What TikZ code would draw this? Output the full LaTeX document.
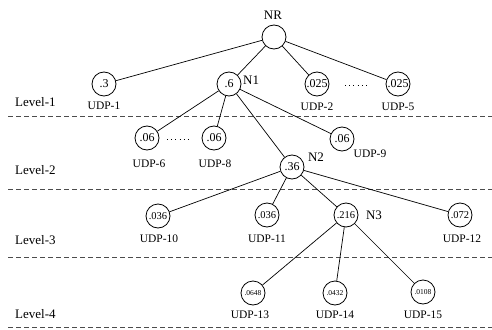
\documentclass[tikz,border=0pt]{standalone}
\usepackage{fontspec}
\setmainfont{Liberation Serif}
\begin{document}
\begin{tikzpicture}[x=1pt,y=-1pt,
  nd/.style={circle,draw,line width=0.8pt,minimum size=24pt,inner sep=0pt,font=\fontsize{12}{12}\selectfont},
  ndm/.style={nd,font=\fontsize{10.5}{10.5}\selectfont},
  nds/.style={nd,font=\fontsize{7.5}{7.5}\selectfont},
  lab/.style={font=\fontsize{11.5}{12}\selectfont,inner sep=0pt},
  nlab/.style={font=\fontsize{13}{13}\selectfont,inner sep=0pt},
  lvl/.style={font=\fontsize{13}{13}\selectfont,inner sep=0pt,anchor=west},
  sep/.style={dash pattern=on 5pt off 3pt,line width=0.8pt,draw=black!70},
  dots/.style={dash pattern=on 1pt off 3.2pt,line width=1pt},
  edge/.style={line width=0.7pt}]
\useasboundingbox (0,0) rectangle (492,329);
% separators
\coordinate (s1a) at (8,116); \coordinate (s1b) at (492,116);
\coordinate (s2a) at (8,189); \coordinate (s2b) at (492,189);
\coordinate (s3a) at (8,257); \coordinate (s3b) at (492,257);
\coordinate (s4a) at (8,327.5); \coordinate (s4b) at (492,327.5);
\draw[sep] (s1a) -- (s1b);
\draw[sep] (s2a) -- (s2b);
\draw[sep] (s3a) -- (s3b);
\draw[sep] (s4a) -- (s4b);
% level labels
\node[lvl] (l1) at (15,102) {Level-1};
\node[lvl] (l2) at (15,170) {Level-2};
\node[lvl] (l3) at (15,240) {Level-3};
\node[lvl] (l4) at (15,314) {Level-4};
% nodes
\node[nd] (nr) at (274,37) {};
\node[nlab] (nrl) at (273,15) {NR};
\node[nd] (u1) at (104,84) {.3};
\node[lab] (u1l) at (104,106) {UDP-1};
\node[nd] (n1) at (229,84) {.6};
\node[nlab,anchor=west] (n1l) at (243,80) {N1};
\node[nd] (u2) at (317,84) {.025};
\node[lab] (u2l) at (317,107) {UDP-2};
\coordinate (d1a) at (345,85); \coordinate (d1b) at (370,85);
\draw[dots] (d1a) -- (d1b);
\node[nd] (u5) at (398,84) {.025};
\node[lab] (u5l) at (398,107) {UDP-5};
\node[nd] (u6) at (147,138) {.06};
\node[lab] (u6l) at (149,164) {UDP-6};
\coordinate (d2a) at (167,139); \coordinate (d2b) at (192,139);
\draw[dots] (d2a) -- (d2b);
\node[nd] (u8) at (214,138) {.06};
\node[lab] (u8l) at (215,164) {UDP-8};
\node[nd] (u9) at (342,139) {.06};
\node[lab] (u9l) at (370,154) {UDP-9};
\node[nd] (n2) at (292,167) {.36};
\node[nlab] (n2l) at (316,157) {N2};
\node[ndm] (u10) at (158,216) {.036};
\node[lab] (u10l) at (159,239) {UDP-10};
\node[ndm] (u11) at (267,215) {.036};
\node[lab] (u11l) at (267,239) {UDP-11};
\node[ndm] (n3) at (346,215) {.216};
\node[nlab] (n3l) at (374,215) {N3};
\node[ndm] (u12) at (460,215) {.072};
\node[lab] (u12l) at (462,239) {UDP-12};
\node[nds] (u13) at (253,293) {.0648};
\node[lab] (u13l) at (250,315) {UDP-13};
\node[nds] (u14) at (335,293) {.0432};
\node[lab] (u14l) at (335,315) {UDP-14};
\node[nds] (u15) at (423,292) {.0108};
\node[lab] (u15l) at (423,315) {UDP-15};
% edges
\draw[edge] (nr) -- (u1);
\draw[edge] (nr) -- (n1);
\draw[edge] (nr) -- (u2);
\draw[edge] (nr) -- (u5);
\draw[edge] (n1) -- (u6);
\draw[edge] (n1) -- (u8);
\draw[edge] (n1) -- (u9);
\draw[edge] (n1) -- (n2);
\draw[edge] (n2) -- (u10);
\draw[edge] (n2) -- (u11);
\draw[edge] (n2) -- (n3);
\draw[edge] (n2) -- (u12);
\draw[edge] (n3) -- (u13);
\draw[edge] (n3) -- (u14);
\draw[edge] (n3) -- (u15);
\end{tikzpicture}
\end{document}
